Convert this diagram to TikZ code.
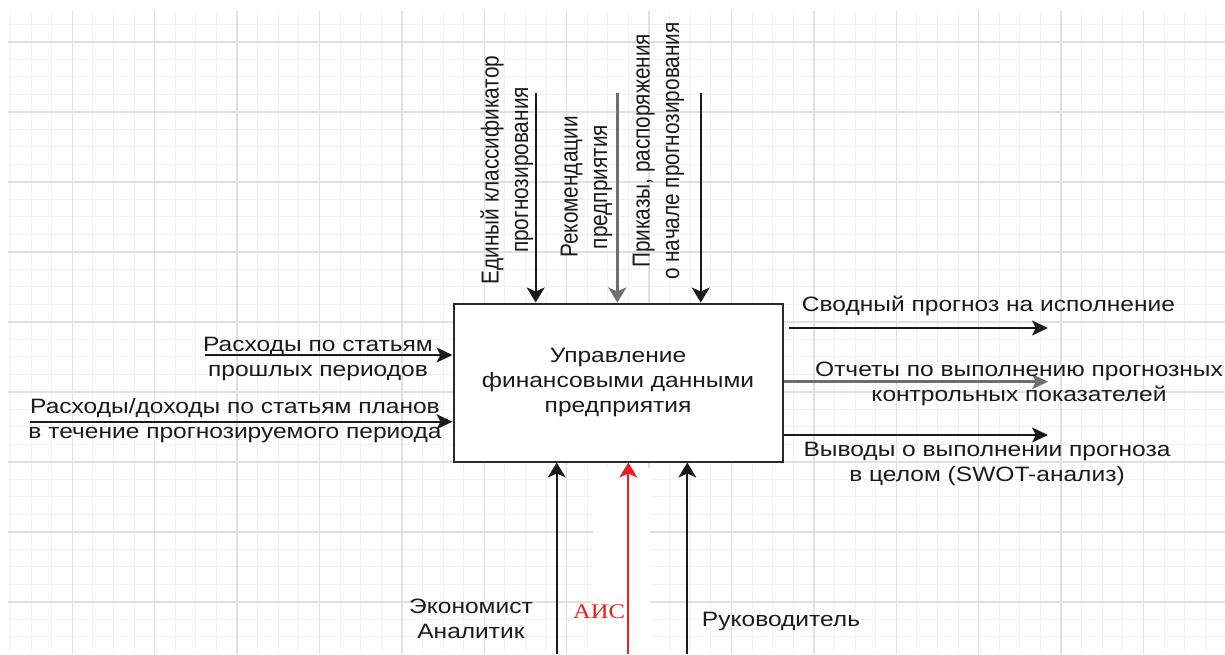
\documentclass[tikz,border=0pt]{standalone}
\usepackage{fontspec}
\setmainfont{Liberation Sans}
\newfontfamily\serifrm{Liberation Serif}
\usetikzlibrary{arrows.meta}
\definecolor{txt}{HTML}{1A1A1A}
\definecolor{minorg}{HTML}{F2F2F2}
\definecolor{majorg}{HTML}{E0E0E0}
\definecolor{redl}{HTML}{EE1C1C}
\definecolor{grayl}{HTML}{6E6E6E}
\definecolor{boxc}{HTML}{2A2A2A}
\newcommand\htext[1]{\scalebox{1.18}[1]{\begin{tabular}{@{}c@{}}#1\end{tabular}}}
\newcommand\vtext[1]{\rotatebox{90}{\scalebox{1}[1.18]{\begin{tabular}{@{}c@{}}#1\end{tabular}}}}
\tikzset{
  conn/.style={line width=2pt, draw=txt},
  gconn/.style={line width=2.8pt, draw=grayl},
  rconn/.style={line width=2pt, draw=redl},
  varr/.style={-{Stealth[length=15pt,width=18pt,inset=4pt]}},
  harr/.style={-{Stealth[length=16pt,width=15pt,inset=4pt]}},
  lbl/.style={inner sep=0pt, text=txt},
}
\begin{document}
\begin{tikzpicture}[x=1pt,y=-1pt, font=\fontsize{20.8}{25}\selectfont]
\useasboundingbox (0,0) rectangle (1225,654);
\fill[white] (0,0) rectangle (1225,654);
% grid
\begin{scope}
  \clip (8,11) rectangle (1225,654);
  \foreach \k in {0,...,58} \draw[minorg, line width=1pt] ({10.5+20.6*\k},11) -- ++(0,643);
  \foreach \j in {1,...,36} \draw[minorg, line width=1pt] (8,{6.95+17.5*\j}) -- ++(1217,0);
  \foreach \m in {0,...,13} \draw[majorg, line width=1.3pt] ({72.3+82.4*\m},11) -- ++(0,643);
  \foreach \m in {0,...,8} \draw[majorg, line width=1.3pt] (8,{41.95+70*\m}) -- ++(1217,0);
  \fill[white] (593,468) rectangle (650,654);
\end{scope}

% main box
\node[draw=boxc, line width=2pt, fill=white, minimum width=329pt, minimum height=158pt,
      inner sep=0pt, text=txt] (box) at (618,382.5)
      {\htext{Управление\\финансовыми данными\\предприятия}};

% top (control) arrows
\coordinate (t1) at (535.7,93);
\coordinate (t2) at (617.3,93);
\coordinate (t3) at (700.7,93);
\draw[conn, varr] (t1) -- (t1 |- box.north);
\draw[gconn, varr] (t2) -- (t2 |- box.north);
\draw[conn, varr] (t3) -- (t3 |- box.north);
\node[lbl] (lt1) at (507.5,170) {\vtext{Единый классификатор\\прогнозирования}};
\node[lbl] (lt2) at (586.5,187) {\vtext{Рекомендации\\предприятия}};
\node[lbl] (lt3) at (658.5,151) {\vtext{Приказы, распоряжения\\о начале прогнозирования}};

% left (input) arrows
\coordinate (l1) at (205,355);
\coordinate (l2) at (30,421.7);
\draw[conn, harr] (l1) -- (l1 -| box.west);
\draw[conn, harr] (l2) -- (l2 -| box.west);
\node[lbl] (ll1) at (318,358.5) {\htext{Расходы по статьям\\прошлых периодов}};
\node[lbl] (ll2) at (235,420.5) {\htext{Расходы/доходы по статьям планов\\в течение прогнозируемого периода}};

% right (output) arrows
\coordinate (r1) at (1048,328);
\coordinate (r2) at (1048,381.7);
\coordinate (r3) at (1048,435);
\draw[conn, harr] ([xshift=5pt]box.east |- r1) -- (r1);
\draw[gconn, harr] (box.east |- r2) -- (r2);
\draw[conn, harr] (box.east |- r3) -- (r3);
\node[lbl] (lr1) at (988.5,306) {\htext{Сводный прогноз на исполнение}};
\node[lbl] (lr2) at (1019,383.5) {\htext{Отчеты по выполнению прогнозных\\контрольных показателей}};
\node[lbl] (lr3) at (987,463.5) {\htext{Выводы о выполнении прогноза\\в целом (SWOT-анализ)}};

% bottom (mechanism) arrows
\coordinate (b1) at (556.7,654);
\coordinate (b2) at (628.3,654);
\coordinate (b3) at (687.3,654);
\draw[conn, varr] (b1) -- (b1 |- box.south);
\draw[rconn, -{Stealth[length=15pt,width=18pt,inset=4pt,fill=redl]}] (b2) -- (b2 |- box.south);
\draw[conn, varr] (b3) -- (b3 |- box.south);
\node[lbl] (lb1) at (471,621) {\htext{Экономист\\Аналитик}};
\node[lbl, text=redl] (lb2) at (599,613) {\htext{\serifrm АИС}};
\node[lbl] (lb3) at (781,621) {\htext{Руководитель}};
\end{tikzpicture}
\end{document}
